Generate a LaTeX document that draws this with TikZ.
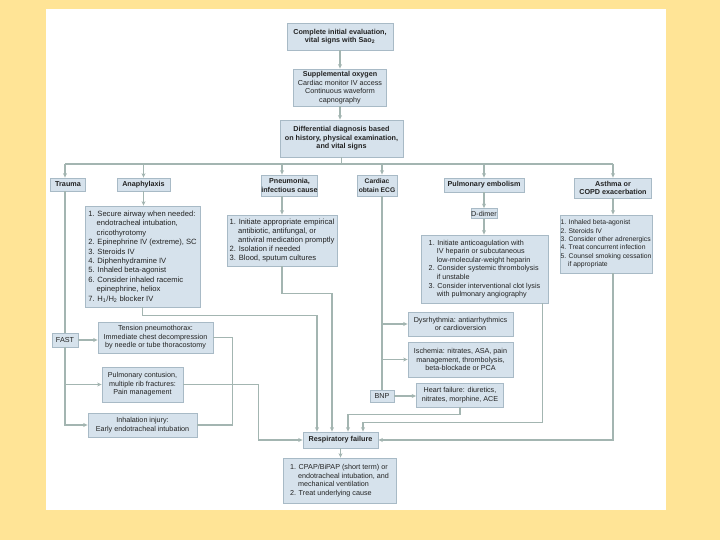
\documentclass[tikz,border=0pt]{standalone}
\usepackage{fontspec}
\setmainfont{Liberation Sans}
\usetikzlibrary{arrows.meta,calc}
\definecolor{pagebg}{RGB}{255,228,150}
\definecolor{boxfill}{RGB}{214,226,236}
\definecolor{boxline}{RGB}{168,186,198}
\definecolor{flowline}{RGB}{163,181,177}
\definecolor{boxtext}{RGB}{35,35,35}
\newcommand{\ind}{\phantom{1.~}}

\begin{document}
\begin{tikzpicture}[x=1pt,y=-1pt,
  every node/.style={inner sep=0pt},
  box/.style={draw=boxline,fill=boxfill,line width=0.8pt,text=boxtext,align=center,font=\fontsize{7.2}{8.6}\selectfont},
  head/.style={box,font=\fontsize{7.2}{8.6}\selectfont\bfseries},
  list/.style={box,align=left},
  flow/.style={draw=flowline,line width=1.2pt},
  arr/.style={flow,-{Stealth[length=4.5pt,width=4pt]}}]
\fill[pagebg] (0,0) rectangle (720,540);
\fill[white] (46,9) rectangle (666,510);
\useasboundingbox (0,0) rectangle (720,540);

\node[head,minimum width=106,minimum height=27] (eval) at (340,36.5) {Complete initial evaluation,\\vital signs with Sao\textsubscript{2}};
\node[box,minimum width=93,minimum height=37] (oxygen) at (340,87.5) {\textbf{Supplemental oxygen}\\Cardiac monitor IV access\\Continuous waveform\\capnography};
\node[head,minimum width=123,minimum height=37] (diff) at (341.5,138.5) {Differential diagnosis based\\on history, physical examination,\\and vital signs};
\coordinate (bus) at (341.5,164);

\node[head,minimum width=35,minimum height=13] (trauma) at (68,184.5) {Trauma};
\node[head,minimum width=53,minimum height=13] (anaph) at (143.5,184.5) {Anaphylaxis};
\node[head,minimum width=55,minimum height=21] (pneu) at (289.5,185.5) {Pneumonia,\\infectious cause};
\node[head,minimum width=40,minimum height=21,font=\fontsize{6.7}{8.4}\selectfont\bfseries] (card) at (377,185.5) {Cardiac\\obtain ECG};
\node[head,minimum width=80,minimum height=14] (pe) at (484,185) {Pulmonary embolism};
\node[head,minimum width=77,minimum height=20] (asthma) at (613,188) {Asthma or\\COPD exacerbation};

\node[list,minimum width=115,minimum height=101,font=\fontsize{7.6}{9.4}\selectfont] (anaphlist) at (142.5,256.5) {1. Secure airway when needed:\\\ind endotracheal intubation,\\\ind cricothyrotomy\\2. Epinephrine IV (extreme), SC\\3. Steroids IV\\4. Diphenhydramine IV\\5. Inhaled beta-agonist\\6. Consider inhaled racemic\\\ind epinephrine, heliox\\7. H\textsubscript{1}/H\textsubscript{2} blocker IV};
\node[list,minimum width=110,minimum height=51,font=\fontsize{7.6}{8.8}\selectfont] (pneulist) at (282,240.5) {1. Initiate appropriate empirical\\\ind antibiotic, antifungal, or\\\ind antiviral medication promptly\\2. Isolation if needed\\3. Blood, sputum cultures};
\node[box,minimum width=26,minimum height=10] (ddimer) at (484,213.5) {D-dimer};
\node[list,minimum width=127,minimum height=68] (pelist) at (484.5,269) {1. Initiate anticoagulation with\\\ind IV heparin or subcutaneous\\\ind low-molecular-weight heparin\\2. Consider systemic thrombolysis\\\ind if unstable\\3. Consider interventional clot lysis\\\ind with pulmonary angiography};
\node[list,minimum width=92,minimum height=58,font=\fontsize{6.8}{8.4}\selectfont] (asthmalist) at (606,244) {1. Inhaled beta-agonist\\2. Steroids IV\\3. Consider other adrenergics\\4. Treat concurrent infection\\5. Counsel smoking cessation\\\ind if appropriate};

\node[box,minimum width=26,minimum height=14] (fast) at (65,340) {FAST};
\node[box,minimum width=115,minimum height=31] (tension) at (155.5,337.5) {Tension pneumothorax:\\Immediate chest decompression\\by needle or tube thoracostomy};
\node[box,minimum width=81,minimum height=35] (contusion) at (142.5,384.5) {Pulmonary contusion,\\multiple rib fractures:\\Pain management};
\node[box,minimum width=109,minimum height=24] (inhal) at (142.5,425) {Inhalation injury:\\Early endotracheal intubation};

\node[box,minimum width=105,minimum height=24] (dysr) at (460.5,324) {Dysrhythmia: antiarrhythmics\\or cardioversion};
\node[box,minimum width=105,minimum height=35] (isch) at (460.5,359.5) {Ischemia: nitrates, ASA, pain\\management, thrombolysis,\\beta-blockade or PCA};
\node[box,minimum width=24,minimum height=12] (bnp) at (382,396) {BNP};
\node[box,minimum width=87,minimum height=24] (hf) at (460,395) {Heart failure: diuretics,\\nitrates, morphine, ACE};

\node[head,minimum width=75,minimum height=16] (resp) at (340.5,440) {Respiratory failure};
\node[list,minimum width=113,minimum height=45] (cpap) at (339.5,480.5) {1. CPAP/BiPAP (short term) or\\\ind endotracheal intubation, and\\\ind mechanical ventilation\\2. Treat underlying cause};

\draw[arr] (eval.south) -- (eval.south |- oxygen.north);
\draw[arr] (oxygen.south) -- (oxygen.south |- diff.north);
\draw[flow] (diff.south) -- (bus);
\draw[flow] (fast |- bus) -- (asthma |- bus);
\draw[arr] (fast |- bus) -- (fast |- trauma.north);
\draw[arr] (anaph |- bus) -- (anaph.north);
\draw[arr] (pneulist |- bus) -- (pneulist |- pneu.north);
\draw[arr] (bnp |- bus) -- (bnp |- card.north);
\draw[arr] (pe |- bus) -- (pe.north);
\draw[arr] (asthma |- bus) -- (asthma.north);

\draw[arr] (anaph.south) -- (anaph.south |- anaphlist.north);
\draw[arr] (pneulist |- pneu.south) -- (pneulist.north);
\draw[arr] (pe.south) -- (ddimer.north);
\draw[arr] (ddimer.south) -- (ddimer.south |- pelist.north);
\draw[arr] (asthma.south) -- (asthma.south |- asthmalist.north);

\draw[flow] (fast |- trauma.south) -- (fast.north);
\draw[arr] (fast.east) -- (fast.east -| tension.west);
\draw[arr] (fast.south) |- (inhal.west);
\draw[arr] (fast.south |- contusion.west) -- (contusion.west);
\draw[flow] (tension.east) -- ++(19,0) |- (inhal.east);
\draw[arr] (contusion.east) -- ++(75,0) |- (resp.west);

\draw[arr] (anaphlist.south) -- ++(0,8) -| ($(resp.north)+(-23.5,0)$);
\draw[arr] (pneulist.south) -- ++(0,27) -| ($(resp.north)+(-8.5,0)$);
\draw[flow] (bnp |- card.south) -- (bnp.north);
\draw[arr] (bnp |- dysr.west) -- (dysr.west);
\draw[arr] (bnp |- isch.west) -- (isch.west);
\draw[arr] (bnp.east) -- (bnp.east -| hf.west);
\draw[arr] (hf.south) -- ++(0,7) -| ($(resp.north)+(7.5,0)$);
\draw[arr] ($(pelist.south east)+(-6,0)$) -- ++(0,119) -| ($(resp.north)+(22.5,0)$);
\draw[arr] (asthmalist.south -| asthma) |- (resp.east);
\draw[arr] (resp.south) -- (resp.south |- cpap.north);
\end{tikzpicture}
\end{document}
